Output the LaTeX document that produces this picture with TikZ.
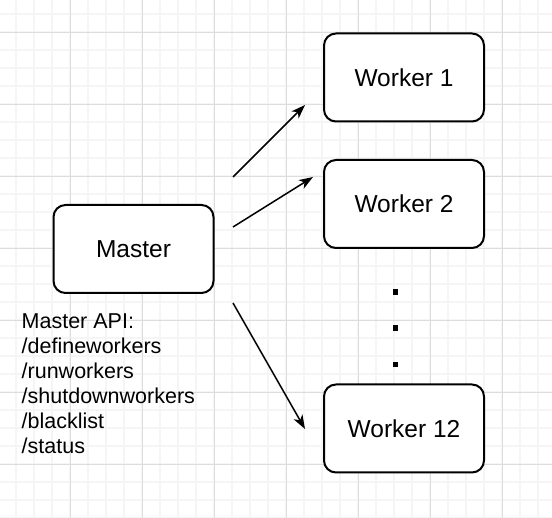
\documentclass[tikz,border=0pt]{standalone}
\usepackage{fontspec}
\setmainfont{Liberation Sans}
\usetikzlibrary{arrows.meta}
\definecolor{gridL}{RGB}{245,245,245}
\definecolor{gridD}{RGB}{221,221,221}

\begin{document}
\begin{tikzpicture}[x=1pt,y=-1pt,>={Stealth[length=14pt,width=10pt,inset=4pt]},
  box/.style={draw,line width=2pt,rounded corners=12pt,fill=white,minimum width=160pt,minimum height=88pt,inner sep=0pt,font=\fontsize{24.5}{29}\selectfont}]
\useasboundingbox (0,0) rectangle (552,518);
\fill[white] (0,0) rectangle (552,518);
% ---- grid
\foreach \g in {16,34,...,550} \draw[gridL,line width=1.5pt] (\g,0)--(\g,518);
\foreach \g in {14,32,...,518} \draw[gridL,line width=1.5pt] (0,\g)--(552,\g);
\foreach \g in {-2,70,...,550} \draw[gridD,line width=0.8pt] (\g,0)--(\g,518);
\foreach \g in {32,104,...,518} \draw[gridD,line width=0.8pt] (0,\g)--(552,\g);
% ---- master and workers
\node[box] (master) at (133.5,249) {Master};
\node[box] (w1) at (404,77.5) {Worker 1};
\node[box] (w2) at (404,204) {Worker 2};
\node[box] (w12) at (404,428.5) {Worker 12};
\node[anchor=north west,inner sep=0pt,align=left,font=\fontsize{21.5}{25}\selectfont] (api) at (21.5,314)
  {Master API:\\/defineworkers\\/runworkers\\/shutdownworkers\\/blacklist\\/status};
\foreach \y in {292,328,364.5} \fill (392.5,\y-2.7) rectangle +(5,5.5);
% ---- arrows
\coordinate (a1) at (233,177); \coordinate (b1) at (305,105);
\coordinate (a2) at (233,227); \coordinate (b2) at (313,177);
\coordinate (a3) at (233,303); \coordinate (b3) at (305,429);
\draw[->,line width=1.5pt] (a1)--(b1);
\draw[->,line width=1.5pt] (a2)--(b2);
\draw[->,line width=1.5pt] (a3)--(b3);
\end{tikzpicture}
\end{document}
